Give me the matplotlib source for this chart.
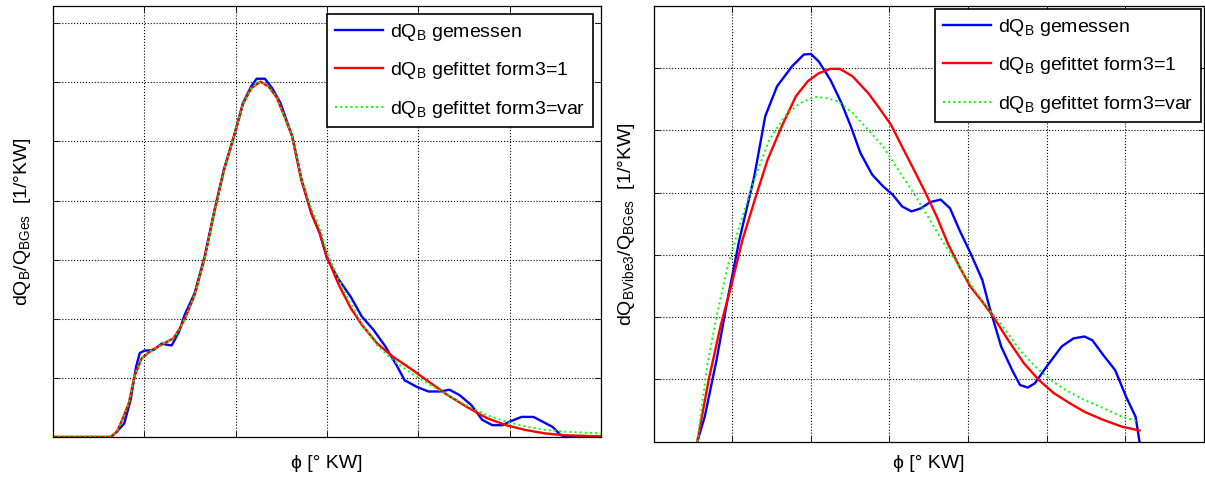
import matplotlib
matplotlib.use("Agg")
import matplotlib.pyplot as plt

plt.rcParams['font.family'] = ['Liberation Sans', 'DejaVu Sans']
plt.rcParams['mathtext.fontset'] = 'custom'
plt.rcParams['mathtext.rm'] = 'Liberation Sans'
plt.rcParams['mathtext.it'] = 'Liberation Sans:italic'

# left panel: measured and fitted heat release (grid units)
xBlueL = [0, 0.635, 0.70, 0.78, 0.85, 0.91, 0.95, 1.0, 1.10, 1.19, 1.25, 1.30, 1.38, 1.44,
          1.55, 1.66, 1.76, 1.87, 1.98, 2.08, 2.17, 2.23, 2.32, 2.40, 2.49, 2.62, 2.72,
          2.83, 2.92, 3.0, 3.13, 3.26, 3.38, 3.51, 3.64, 3.77, 3.85, 3.98, 4.11, 4.24,
          4.34, 4.45, 4.58, 4.70, 4.81, 4.92, 5.0, 5.13, 5.26, 5.36, 5.47, 5.56, 5.64, 6.0]
yBlueL = [0, 0, 0.09, 0.23, 0.63, 1.19, 1.42, 1.46, 1.47, 1.58, 1.56, 1.55, 1.78, 2.06,
          2.43, 3.05, 3.78, 4.52, 5.08, 5.65, 5.93, 6.06, 6.06, 5.90, 5.65, 5.08, 4.35,
          3.78, 3.45, 3.02, 2.66, 2.37, 2.04, 1.81, 1.53, 1.19, 0.96, 0.85, 0.77, 0.77,
          0.80, 0.71, 0.54, 0.29, 0.20, 0.20, 0.26, 0.34, 0.34, 0.26, 0.17, 0.03, 0, 0]

xRedL = [0, 0.63, 0.70, 0.76, 0.83, 0.89, 0.97, 1.08, 1.21, 1.32, 1.40, 1.45, 1.55, 1.66,
         1.76, 1.87, 1.98, 2.08, 2.17, 2.27, 2.36, 2.45, 2.55, 2.62, 2.72, 2.83, 2.92,
         3.0, 3.13, 3.26, 3.38, 3.55, 3.72, 3.94, 4.11, 4.32, 4.53, 4.75, 4.96, 5.17,
         5.39, 5.60, 6.0]
yRedL = [0, 0, 0.09, 0.30, 0.57, 1.02, 1.33, 1.47, 1.58, 1.67, 1.87, 2.02, 2.40, 3.02,
         3.76, 4.50, 5.08, 5.63, 5.90, 6.01, 5.93, 5.74, 5.36, 5.08, 4.35, 3.78, 3.45,
         3.05, 2.57, 2.18, 1.90, 1.58, 1.36, 1.13, 0.94, 0.71, 0.51, 0.32, 0.20, 0.12,
         0.06, 0.03, 0.01]
yGreenL = [0, 0, 0.09, 0.30, 0.57, 1.02, 1.33, 1.47, 1.58, 1.67, 1.87, 2.02, 2.40, 3.02,
           3.76, 4.50, 5.08, 5.63, 5.90, 6.01, 5.93, 5.74, 5.36, 5.08, 4.38, 3.85, 3.55,
           3.12, 2.65, 2.25, 1.92, 1.55, 1.30, 1.06, 0.90, 0.71, 0.53, 0.37, 0.26, 0.18,
           0.12, 0.09, 0.06]

# right panel: Vibe fit comparison
xBlueR = [0.555, 0.65, 0.80, 0.94, 1.09, 1.28, 1.42, 1.57, 1.76, 1.91, 2.00, 2.10, 2.25,
          2.39, 2.51, 2.63, 2.78, 2.92, 3.04, 3.16, 3.28, 3.40, 3.52, 3.65, 3.77, 3.89,
          4.03, 4.18, 4.27, 4.42, 4.56, 4.66, 4.76, 4.85, 5.00, 5.19, 5.34, 5.48, 5.58,
          5.72, 5.87, 6.01, 6.13, 6.18]
yBlueR = [0, 0.40, 1.31, 2.28, 3.24, 4.26, 5.23, 5.71, 6.03, 6.22, 6.23, 6.11, 5.81,
          5.44, 5.06, 4.64, 4.29, 4.10, 3.97, 3.78, 3.70, 3.75, 3.85, 3.89, 3.75, 3.40,
          3.03, 2.60, 2.17, 1.53, 1.15, 0.91, 0.87, 0.94, 1.21, 1.53, 1.66, 1.69, 1.63,
          1.39, 1.15, 0.72, 0.40, 0]

xRedR = [0.555, 0.70, 0.85, 0.99, 1.13, 1.30, 1.45, 1.62, 1.81, 1.96, 2.10, 2.25, 2.37,
         2.53, 2.73, 2.87, 3.02, 3.16, 3.31, 3.45, 3.60, 3.74, 3.89, 4.03, 4.18, 4.32,
         4.51, 4.71, 4.90, 5.09, 5.29, 5.48, 5.72, 5.96, 6.18]
yRedR = [0, 0.99, 1.85, 2.52, 3.24, 3.94, 4.53, 5.04, 5.55, 5.79, 5.92, 5.99, 5.99,
         5.87, 5.60, 5.36, 5.09, 4.74, 4.37, 4.02, 3.62, 3.19, 2.81, 2.49, 2.25, 2.01,
         1.63, 1.26, 0.99, 0.78, 0.62, 0.48, 0.35, 0.24, 0.18]

xGreenR = [0.555, 0.68, 0.80, 0.94, 1.09, 1.28, 1.47, 1.67, 1.86, 2.05, 2.20, 2.34, 2.53,
           2.73, 2.92, 3.11, 3.31, 3.50, 3.69, 3.89, 4.08, 4.27, 4.47, 4.66, 4.85, 5.05,
           5.24, 5.48, 5.72, 5.96, 6.18]
yGreenR = [0, 1.21, 2.01, 2.81, 3.46, 4.21, 4.85, 5.23, 5.44, 5.54, 5.52, 5.47, 5.28,
           5.01, 4.74, 4.37, 3.99, 3.59, 3.19, 2.81, 2.44, 2.12, 1.80, 1.47, 1.21, 0.99,
           0.83, 0.67, 0.54, 0.40, 0.32]

labels = [r'dQ$_{\mathrm{B}}$ gemessen',
          r'dQ$_{\mathrm{B}}$ gefittet form3=1',
          r'dQ$_{\mathrm{B}}$ gefittet form3=var']

fig = plt.figure(figsize=(12.05, 4.79), dpi=100)
axL = fig.add_axes([53/1205, 42/479, 548/1205, 431/479])
axR = fig.add_axes([653.6/1205, 37.3/479, 550.4/1205, 435.7/479])


def style(ax, xmax, ymax):
    ax.set_xlim(0, xmax)
    ax.set_ylim(0, ymax)
    ax.set_xticks(range(int(xmax) + 1))
    ax.set_yticks(range(int(ymax) + 1))
    ax.tick_params(direction='in', top=True, right=True, length=4, width=0.6,
                   labelbottom=False, labelleft=False)
    ax.grid(True, color='k', linestyle=':', linewidth=0.8)
    for s in ax.spines.values():
        s.set_linewidth(0.9)
    ax.set_xlabel('ϕ [° KW]', fontsize=14)


axL.plot(xBlueL, yBlueL, color='#0000ff', lw=1.7)
axL.plot(xRedL, yRedL, color='#ff0000', lw=1.7)
axL.plot(xRedL, yGreenL, color='#00ff00', lw=1.4, linestyle=':')
style(axL, 6, 7.29)
axL.xaxis.set_label_coords(0.5, -0.042)
axL.set_ylabel(r'dQ$_{\mathrm{B}}$/Q$_{\mathrm{BGes}}$  [1/°KW]', fontsize=14)
axL.yaxis.set_label_coords(-0.037, 0.5)

axR.plot(xBlueR, yBlueR, color='#0000ff', lw=1.7)
axR.plot(xRedR, yRedR, color='#ff0000', lw=1.7)
axR.plot(xGreenR, yGreenR, color='#00ff00', lw=1.4, linestyle=':')
style(axR, 7, 7)
axR.xaxis.set_label_coords(0.5, -0.03)
axR.set_ylabel(r'dQ$_{\mathrm{BVibe3}}$/Q$_{\mathrm{BGes}}$  [1/°KW]', fontsize=14)
axR.yaxis.set_label_coords(-0.030, 0.5)

for ax, pad in [(axL, 0.4), (axR, 0.15)]:
    leg = ax.legend(labels, loc='upper right', fontsize=14, fancybox=False,
                    framealpha=1, edgecolor='k', handlelength=2.5,
                    handletextpad=0.35, labelspacing=0.9, borderaxespad=pad,
                    borderpad=0.4)
    leg.get_frame().set_linewidth(1.2)

fig.savefig("out.png", dpi=100)
